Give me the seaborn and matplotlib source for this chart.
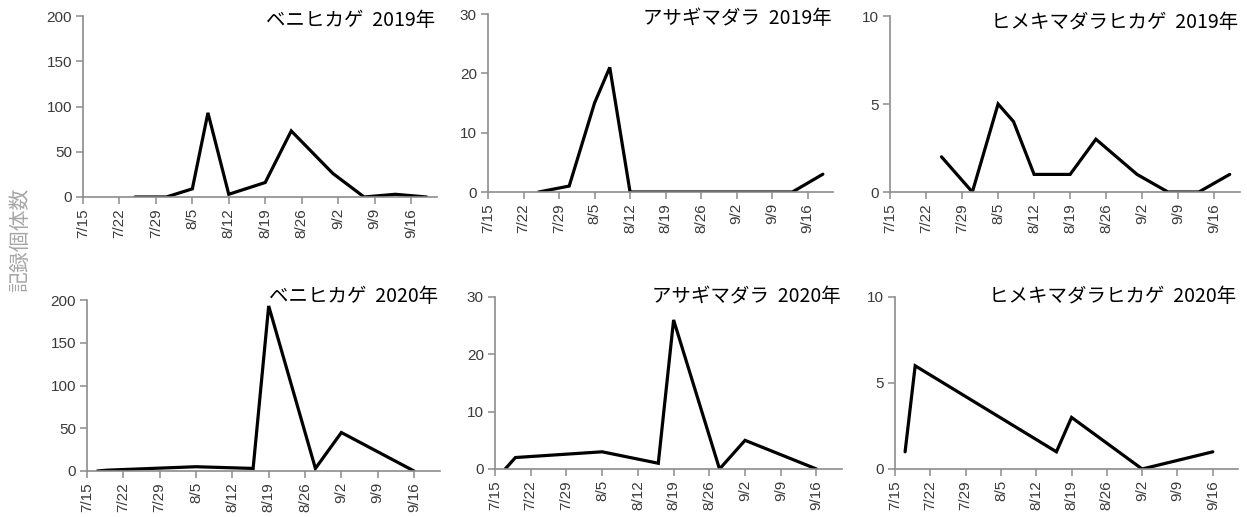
import matplotlib
matplotlib.use("Agg")
import matplotlib.pyplot as plt
import seaborn as sns
import pandas as pd

# ---- data ----
dates_2019 = ["7/25", "7/31", "8/5", "8/8", "8/12", "8/19", "8/24", "9/1", "9/7", "9/13", "9/19"]
beni_2019 = [0, 0, 9, 93, 3, 16, 73, 26, 0, 3, 0]
asagi_2019 = [0, 1, 15, 21, 0, 0, 0, 0, 0, 0, 3]
hime_2019 = [2, 0, 5, 4, 1, 1, 3, 1, 0, 0, 1]

dates_2020 = ["7/17", "7/19", "8/5", "8/16", "8/19", "8/28", "9/2", "9/16"]
beni_2020 = [0, 1, 5, 3, 193, 3, 45, 0]
asagi_2020 = [0, 2, 3, 1, 26, 0, 5, 0]
dates_hime_2020 = ["7/17", "7/19", "8/16", "8/19", "9/2", "9/16"]
hime_2020 = [1, 6, 1, 3, 0, 1]

tick_labels = ["7/15", "7/22", "7/29", "8/5", "8/12", "8/19", "8/26", "9/2", "9/9", "9/16"]
titles = ["ベニヒカゲ  2019年", "アサギマダラ  2019年", "ヒメキマダラヒカゲ  2019年",
          "ベニヒカゲ  2020年", "アサギマダラ  2020年", "ヒメキマダラヒカゲ  2020年"]
y_label = "記録個体数"

sns.set_theme(style="white")
plt.rcParams['font.family'] = ['Noto Sans CJK JP', 'DejaVu Sans']

W, H = 1247, 517
fig = plt.figure(figsize=(W / 100, H / 100), dpi=100)


def day_of(ds):
    return [(pd.Timestamp("2019/" + d) - pd.Timestamp("2019/7/15")).days for d in ds]


tick_pos = day_of(tick_labels)

panels = [
    ((83, 16, 437, 197), dates_2019, beni_2019, 200, [0, 50, 100, 150, 200], 0.975),
    ((488, 14, 833, 192), dates_2019, asagi_2019, 30, [0, 10, 20, 30], 0.975),
    ((890, 16, 1240, 192), dates_2019, hime_2019, 10, [0, 5, 10], 0.965),
    ((87, 300, 440, 471), dates_2020, beni_2020, 200, [0, 50, 100, 150, 200], 1.02),
    ((495, 297, 842, 469), dates_2020, asagi_2020, 30, [0, 10, 20, 30], 1.0),
    ((895, 297, 1238, 469), dates_hime_2020, hime_2020, 10, [0, 5, 10], 1.0),
]

spine_col = "#8c8c8c"
label_col = "#3a3a3a"

for i, (rect, ds, vals, ymax, yt, ty) in enumerate(panels):
    l, t, r, b = rect
    ax = fig.add_axes([l / W, 1 - b / H, (r - l) / W, (b - t) / H])
    df = pd.DataFrame({"day": day_of(ds), "n": vals})
    sns.lineplot(data=df, x="day", y="n", ax=ax, color="black", linewidth=2.3,
                 solid_joinstyle="miter")
    ax.set_xlim(0, 68)
    ax.set_ylim(0, ymax)
    ax.set_xticks(tick_pos)
    ax.set_xticklabels(tick_labels, rotation=90, family="Liberation Sans",
                       fontsize=11, color=label_col)
    ax.set_yticks(yt)
    ax.set_yticklabels([str(v) for v in yt], family="Liberation Sans",
                       fontsize=11, color=label_col)
    ax.set_xlabel("")
    ax.set_ylabel("")
    for s in ["top", "right"]:
        ax.spines[s].set_visible(False)
    for s in ["left", "bottom"]:
        ax.spines[s].set_color(spine_col)
        ax.spines[s].set_linewidth(1.2)
    ax.tick_params(axis="both", which="both", direction="out", length=5,
                   width=1.1, color=spine_col, pad=3, bottom=True, left=True)
    ax.grid(False)
    ax.set_facecolor("white")
    ax.text(0.995, ty, titles[i], transform=ax.transAxes, ha="right", va="center",
            fontsize=14, color="black",
            family=["Noto Sans CJK JP", "DejaVu Sans"])

fig.text(20 / W, 1 - 240 / H, y_label, rotation=90, ha="center", va="center",
         fontsize=15, color="#a6a6a6", family=["Noto Sans CJK JP", "DejaVu Sans"])

fig.savefig("out.png", dpi=100, facecolor="white")
